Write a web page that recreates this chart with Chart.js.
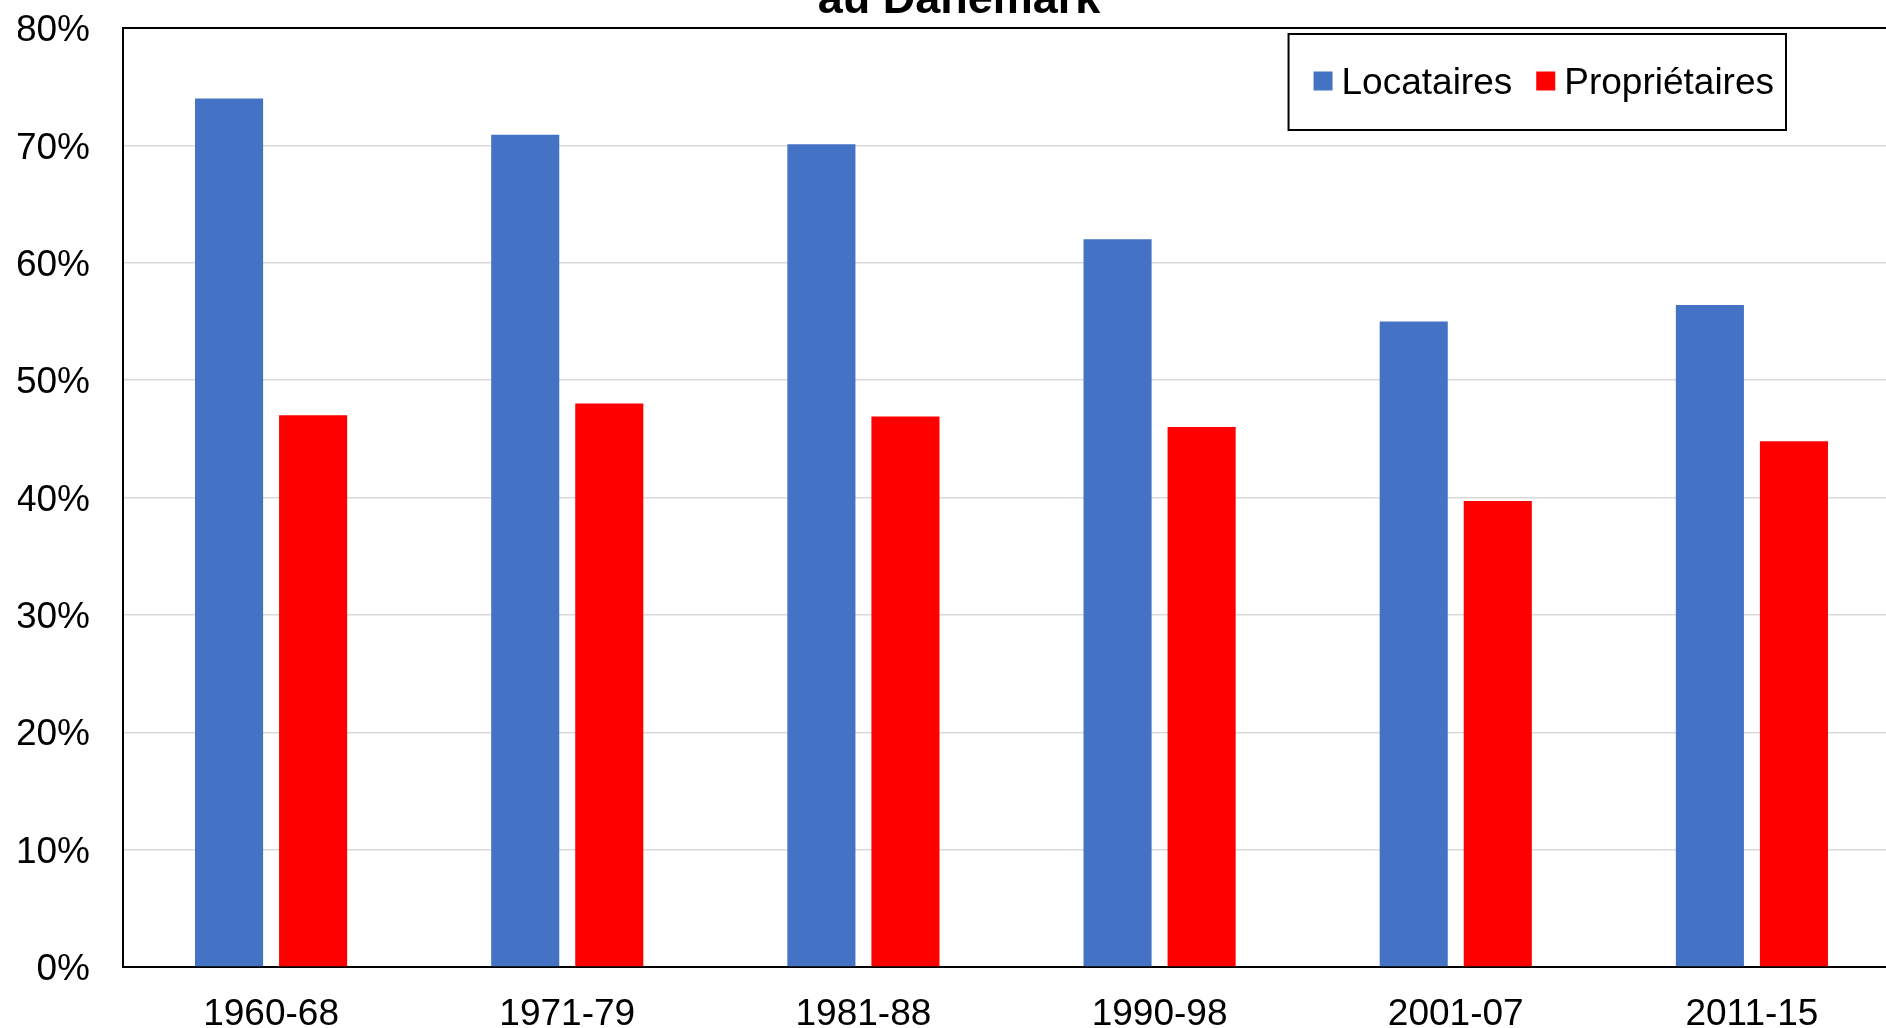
<!DOCTYPE html>
<html lang="fr">
<head>
    <meta charset="UTF-8">
    <title>au Danemark</title>
    <script src="https://cdn.jsdelivr.net/npm/chart.js"></script>
    <style>
        html, body {
            margin: 0;
            padding: 0;
            background: #fff;
            overflow: hidden;
            width: 1886px;
            height: 1028px;
        }
        .chart-container {
            position: absolute;
            left: 0;
            top: -40px;
            width: 1910px;
            height: 1069px;
        }
    </style>
</head>
<body>
    <div class="chart-container">
        <canvas id="chart"></canvas>
    </div>

    <script>
        // Data
        const categories = ['1960-68', '1971-79', '1981-88', '1990-98', '2001-07', '2011-15'];
        const locataires = [74.0, 70.9, 70.1, 62.0, 55.0, 56.4];
        const proprietaires = [47.0, 48.0, 46.9, 46.0, 39.7, 44.8];
        const seriesNames = ['Locataires', 'Propriétaires'];
        const seriesColors = ['#4472C4', '#FF0000'];

        const FONT = "'Liberation Sans', Arial, sans-serif";

        // legend drawn as a framed box inside the plot area (top right)
        const boxLegend = {
            id: 'boxLegend',
            afterDraw(chart) {
                const ctx = chart.ctx;
                const area = chart.chartArea;
                ctx.save();
                ctx.font = '37px ' + FONT;
                ctx.textBaseline = 'middle';
                const sq = 19, gapSq = 9, gapItem = 24, padL = 25, padR = 12;
                const items = chart.data.datasets.map(ds => ({
                    label: ds.label, color: ds.backgroundColor, w: ctx.measureText(ds.label).width
                }));
                let width = padL + padR;
                items.forEach((it, i) => { width += sq + gapSq + it.w + (i ? gapItem : 0); });
                const boxH = 96;
                const right = area.right - 114;
                const left = right - width;
                const top = area.top + 6;
                ctx.fillStyle = '#fff';
                ctx.fillRect(left, top, width, boxH);
                ctx.strokeStyle = '#000';
                ctx.lineWidth = 2;
                ctx.strokeRect(left, top, width, boxH);
                let x = left + padL;
                const cy = top + boxH / 2 - 1;
                items.forEach((it, i) => {
                    if (i) x += gapItem;
                    ctx.fillStyle = it.color;
                    ctx.fillRect(x, cy - sq / 2, sq, sq);
                    x += sq + gapSq;
                    ctx.fillStyle = '#000';
                    ctx.fillText(it.label, x, cy + 3);
                    x += it.w;
                });
                ctx.restore();
            }
        };

        // black frame line along the top of the plot area
        const topBorder = {
            id: 'topBorder',
            beforeDatasetsDraw(chart) {
                const { ctx, chartArea } = chart;
                ctx.save();
                ctx.strokeStyle = '#000';
                ctx.lineWidth = 2;
                ctx.beginPath();
                ctx.moveTo(chartArea.left, chartArea.top);
                ctx.lineTo(chartArea.right, chartArea.top);
                ctx.stroke();
                ctx.restore();
            }
        };

        new Chart(document.getElementById('chart'), {
            type: 'bar',
            data: {
                labels: categories,
                datasets: [
                    {
                        label: seriesNames[0],
                        data: locataires,
                        backgroundColor: seriesColors[0],
                        borderWidth: 0,
                        categoryPercentage: 0.5676,
                        barPercentage: 0.81
                    },
                    {
                        label: seriesNames[1],
                        data: proprietaires,
                        backgroundColor: seriesColors[1],
                        borderWidth: 0,
                        categoryPercentage: 0.5676,
                        barPercentage: 0.81
                    }
                ]
            },
            options: {
                responsive: true,
                maintainAspectRatio: false,
                animation: false,
                layout: { padding: { left: 18, right: 10, top: 0, bottom: 0 } },
                plugins: {
                    legend: { display: false },
                    tooltip: { enabled: false },
                    title: {
                        display: true,
                        text: 'au Danemark',
                        color: '#000',
                        font: { family: FONT, size: 45, weight: 'bold' },
                        padding: { top: 14, bottom: 0 }
                    }
                },
                scales: {
                    x: {
                        grid: { display: false },
                        border: { display: true, color: '#000', width: 2 },
                        ticks: {
                            color: '#000',
                            font: { family: FONT, size: 37 },
                            padding: 18,
                            maxRotation: 0,
                            autoSkip: false
                        },
                        afterFit: scale => { scale.height = 62; }
                    },
                    y: {
                        min: 0,
                        max: 80,
                        grid: { color: '#d9d9d9', lineWidth: 1.5, drawTicks: false },
                        border: { display: true, color: '#000', width: 2 },
                        ticks: {
                            stepSize: 10,
                            color: '#000',
                            font: { family: FONT, size: 37 },
                            padding: 33,
                            labelOffset: 3,
                            callback: v => v + '%'
                        },
                        afterFit: scale => { scale.width = 105; }
                    }
                }
            },
            plugins: [topBorder, boxLegend]
        });
    </script>
</body>
</html>
